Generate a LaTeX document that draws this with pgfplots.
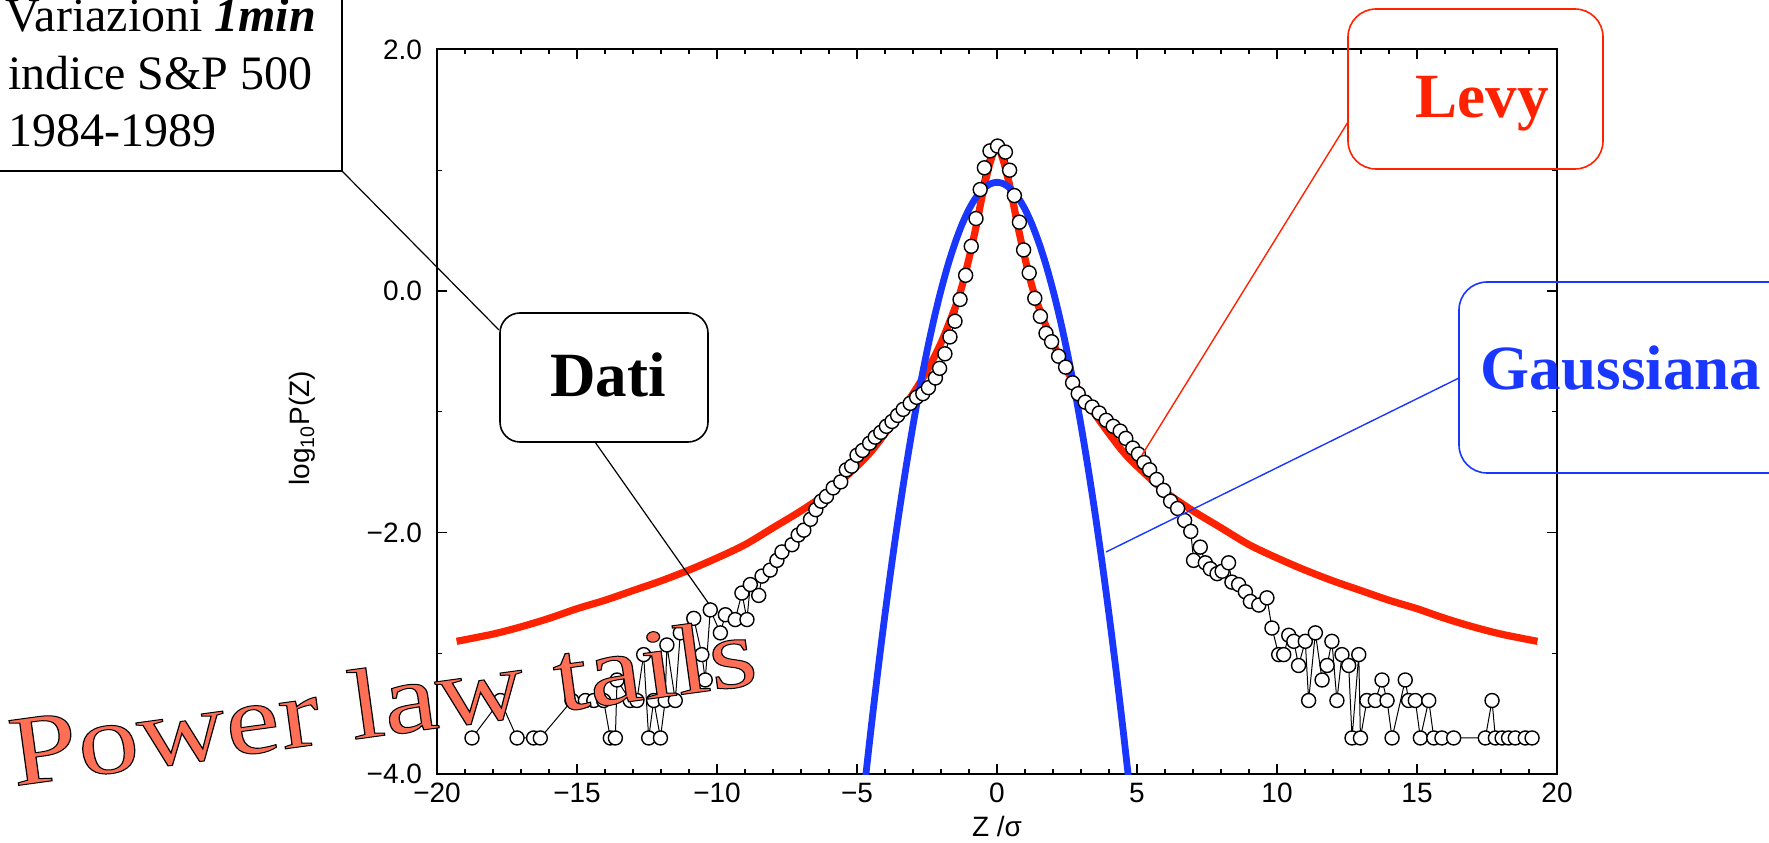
\documentclass[border=0pt]{standalone}
\usepackage{fontspec}
\setmainfont{Liberation Serif}
\setsansfont{Liberation Sans}
\usepackage{pgfplots}
\pgfplotsset{compat=1.18}
\definecolor{levyred}{RGB}{255,34,0}
\definecolor{gaussblue}{RGB}{25,55,255}
\definecolor{plawcol}{RGB}{255,111,86}
\begin{document}
\begin{tikzpicture}
\path[use as bounding box] (0,0) rectangle (884.5pt,421pt);
\begin{axis}[
  at={(218.5pt,33.9pt)}, anchor=south west,
  width=560pt, height=362.4pt, scale only axis,
  xmin=-20, xmax=20, ymin=-4, ymax=2,
  xtick={-20,-15,-10,-5,0,5,10,15,20},
  xticklabels={−20,−15,−10,−5,0,5,10,15,20},
  ytick={-4,-2,0,2},
  yticklabels={−4.0,−2.0,0.0,2.0},
  minor x tick num=4, minor y tick num=1,
  tick align=inside, major tick length=5pt, minor tick length=2.5pt,
  every tick/.style={black, line width=0.6pt},
  axis line style={black, line width=1pt},
  ticklabel style={font=\sffamily\fontsize{14}{16}\selectfont},
  yticklabel style={xshift=-4pt},
  xticklabel style={yshift=-1pt},
  xlabel={Z /σ}, ylabel={log\textsubscript{10}P(Z)},
  every axis x label/.style={at={(axis description cs:0.5,-0.072)}, anchor=center, font=\sffamily\fontsize{14}{16}\selectfont},
  every axis y label/.style={at={(axis description cs:-0.12,0.477)}, anchor=center, rotate=90, font=\sffamily\fontsize{14}{16}\selectfont},
]
\addplot[black, line width=0.5pt, mark=*, mark size=3.5pt, mark options={fill=white, draw=black, line width=0.7pt}] coordinates {
(-18.75,-3.70) (-17.74,-3.39) (-17.14,-3.70) (-16.55,-3.70) (-16.31,-3.70) (-15.18,-3.39) (-14.70,-3.39) (-14.40,-3.39) (-14.05,-3.39) (-13.81,-3.70) (-13.63,-3.70) (-13.57,-3.22) (-13.10,-3.39) (-12.86,-3.39) (-12.62,-3.01) (-12.44,-3.70) (-12.26,-3.39) (-12.02,-3.70) (-11.85,-3.39) (-11.79,-2.93) (-11.49,-3.39) (-11.31,-2.83) (-10.83,-2.71) (-10.54,-3.01) (-10.42,-3.22) (-10.24,-2.64) (-9.88,-2.83) (-9.70,-2.68) (-9.35,-2.72) (-9.11,-2.50) (-8.93,-2.72) (-8.81,-2.43) (-8.51,-2.52) (-8.39,-2.36) (-8.10,-2.31) (-7.86,-2.23) (-7.68,-2.16) (-7.32,-2.10) (-7.10,-2.02) (-6.90,-1.98) (-6.66,-1.89) (-6.47,-1.81) (-6.28,-1.74) (-6.09,-1.70) (-5.85,-1.63) (-5.58,-1.58) (-5.38,-1.48) (-5.19,-1.45) (-5.00,-1.36) (-4.80,-1.32) (-4.55,-1.26) (-4.35,-1.21) (-4.15,-1.17) (-3.95,-1.12) (-3.75,-1.08) (-3.55,-1.03) (-3.35,-0.98) (-3.10,-0.93) (-2.87,-0.88) (-2.65,-0.85) (-2.45,-0.80) (-2.20,-0.72) (-2.05,-0.64) (-1.86,-0.52) (-1.68,-0.38) (-1.50,-0.25) (-1.32,-0.07) (-1.12,0.13) (-0.92,0.37) (-0.75,0.60) (-0.60,0.84) (-0.45,1.02) (-0.25,1.16) (0.02,1.20) (0.30,1.15) (0.45,1.00) (0.62,0.79) (0.80,0.57) (0.95,0.34) (1.15,0.15) (1.35,-0.06) (1.55,-0.21) (1.75,-0.35) (1.95,-0.42) (2.20,-0.54) (2.45,-0.63) (2.70,-0.76) (2.90,-0.85) (3.15,-0.92) (3.40,-0.96) (3.65,-1.01) (3.90,-1.07) (4.15,-1.12) (4.40,-1.16) (4.60,-1.22) (4.85,-1.30) (5.05,-1.35) (5.25,-1.42) (5.45,-1.48) (5.70,-1.56) (5.95,-1.65) (6.20,-1.74) (6.45,-1.80) (6.70,-1.90) (6.92,-1.99) (7.02,-2.23) (7.26,-2.12) (7.44,-2.25) (7.62,-2.30) (7.86,-2.34) (8.04,-2.32) (8.27,-2.25) (8.39,-2.41) (8.63,-2.43) (8.87,-2.49) (9.05,-2.57) (9.35,-2.60) (9.64,-2.54) (9.82,-2.79) (10.06,-3.01) (10.24,-3.01) (10.42,-2.85) (10.60,-2.90) (10.77,-3.10) (11.01,-2.90) (11.13,-3.39) (11.37,-2.83) (11.61,-3.22) (11.79,-3.10) (11.96,-2.90) (12.14,-3.39) (12.32,-3.01) (12.56,-3.10) (12.68,-3.70) (12.92,-3.01) (12.98,-3.70) (13.21,-3.39) (13.51,-3.39) (13.75,-3.22) (13.93,-3.39) (14.11,-3.70) (14.58,-3.22) (14.70,-3.39) (14.94,-3.39) (15.12,-3.70) (15.42,-3.39) (15.60,-3.70) (15.89,-3.70) (16.31,-3.70) (17.44,-3.70) (17.68,-3.39) (17.80,-3.70) (18.04,-3.70) (18.27,-3.70) (18.51,-3.70) (18.87,-3.70) (19.11,-3.70)
};
\addplot[levyred, line width=3.6pt, smooth] coordinates {
(-19.3,-2.90) (-18,-2.84) (-17,-2.78) (-16,-2.71) (-15,-2.63) (-14,-2.56) (-13,-2.48) (-12,-2.40) (-11,-2.31) (-10,-2.21) (-9,-2.10) (-8,-1.96) (-7,-1.82) (-6,-1.66) (-5,-1.45) (-4.5,-1.33) (-4,-1.18) (-3.5,-1.02) (-3,-0.85) (-2.5,-0.66) (-2,-0.43) (-1.5,-0.14) (-1.25,0.04) (-1,0.27) (-0.75,0.53) (-0.5,0.82) (-0.25,1.06) (0,1.20) (0.25,1.06) (0.5,0.82) (0.75,0.53) (1,0.27) (1.25,0.04) (1.5,-0.14) (2,-0.43) (2.5,-0.66) (3,-0.85) (3.5,-1.02) (4,-1.18) (4.5,-1.33) (5,-1.45) (6,-1.66) (7,-1.82) (8,-1.96) (9,-2.10) (10,-2.21) (11,-2.31) (12,-2.40) (13,-2.48) (14,-2.56) (15,-2.63) (16,-2.71) (17,-2.78) (18,-2.84) (19.3,-2.90)
};
\addplot[gaussblue, line width=3.4pt, smooth] coordinates {
(-4.75,-4.143) (-4.5,-3.626) (-4.25,-3.137) (-4,-2.676) (-3.75,-2.243) (-3.5,-1.838) (-3.25,-1.461) (-3,-1.112) (-2.75,-0.790) (-2.5,-0.497) (-2.25,-0.231) (-2,0.006) (-1.75,0.216) (-1.5,0.397) (-1.25,0.551) (-1,0.677) (-0.75,0.774) (-0.5,0.844) (-0.25,0.886) (0,0.9) (0.25,0.886) (0.5,0.844) (0.75,0.774) (1,0.677) (1.25,0.551) (1.5,0.397) (1.75,0.216) (2,0.006) (2.25,-0.231) (2.5,-0.497) (2.75,-0.790) (3,-1.112) (3.25,-1.461) (3.5,-1.838) (3.75,-2.243) (4,-2.676) (4.25,-3.137) (4.5,-3.626) (4.75,-4.143)
};
\end{axis}
\begin{scope}[shift={(0pt,421pt)}, x=0.5pt, y=-0.5pt]
% info box
\draw[black, line width=0.9pt] (-20,-20) rectangle (342,171);
\node[anchor=base west, inner sep=0, font=\fontsize{24}{24}\selectfont] at (5,32) {Variazioni \textbf{\textit{1min}}};
\node[anchor=base west, inner sep=0, font=\fontsize{24}{24}\selectfont] at (8,90) {indice S\&P 500};
\node[anchor=base west, inner sep=0, font=\fontsize{24}{24}\selectfont] at (8,147) {1984-1989};
\draw[black, line width=0.6pt] (342,171) -- (499,330);
% Dati
\draw[black, line width=0.8pt, rounded corners=10pt] (500,313) rectangle (708,442);
\node[anchor=base, inner sep=0, font=\bfseries\fontsize{31.5}{31.5}\selectfont] at (608,397) {Dati};
\draw[black, line width=0.6pt] (595,442) -- (709,604);
% Levy
\draw[levyred, line width=0.8pt, rounded corners=14pt] (1348,9) rectangle (1603,169);
\node[anchor=base, inner sep=0, text=levyred, font=\bfseries\fontsize{31.5}{31.5}\selectfont] at (1482,118) {Levy};
\draw[levyred, line width=0.7pt] (1348,122) -- (1142,455);
% Gaussiana
\draw[gaussblue, line width=0.8pt, rounded corners=14pt] (1459,282) rectangle (1800,473);
\node[anchor=base, inner sep=0, text=gaussblue, font=\bfseries\fontsize{31.5}{31.5}\selectfont] at (1621,390) {Gaussiana};
\draw[gaussblue, line width=0.7pt] (1459,378) -- (1106,552);
% Power law tails
\node[anchor=base west, inner sep=0, rotate=7.8, xscale=1.22, text=plawcol, font=\fontsize{50}{50}\selectfont] at (14,786) {\special{pdf:literal direct 2 Tr 0.5 w 0 0 0 RG}Power law tails\special{pdf:literal direct 0 Tr}};
\end{scope}
\end{tikzpicture}
\end{document}
